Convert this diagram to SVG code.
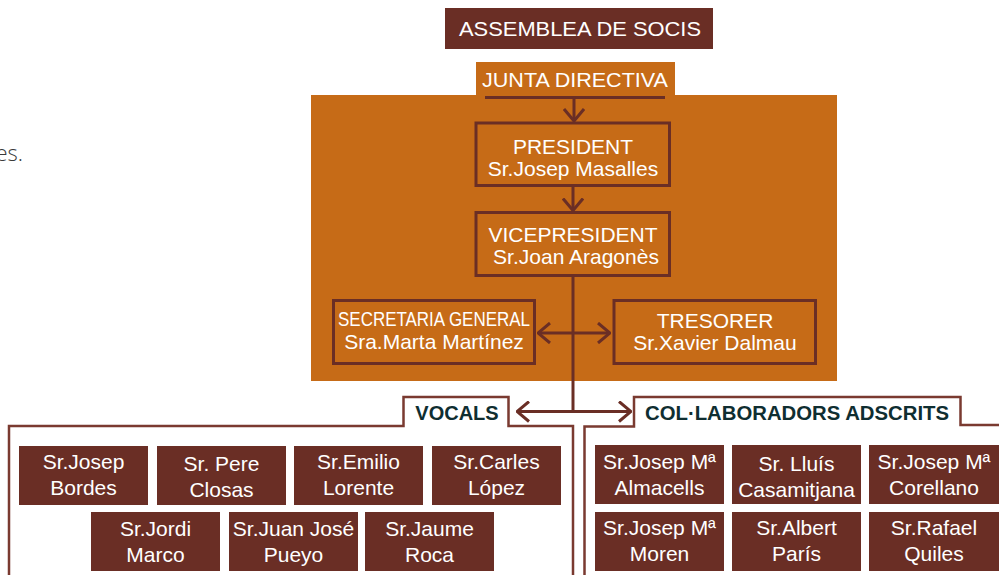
<svg xmlns="http://www.w3.org/2000/svg" width="999" height="575" viewBox="0 0 999 575">
<style>
.t{font-family:"Liberation Sans","Noto Sans",sans-serif;fill:#fff;text-anchor:middle;font-size:21px}
.h{font-family:"Liberation Sans","Noto Sans",sans-serif;fill:#0f2e31;text-anchor:middle;font-size:20px;font-weight:bold}
.box{fill:#6a2e25}
.ob{fill:none;stroke:#6a2e25;stroke-width:3}
.c{fill:none;stroke:#6a2e25;stroke-width:3}
.f{fill:none;stroke:#7a3a30;stroke-width:2.5}
</style>
<defs>
<marker id="ah" viewBox="0 0 14 22" refX="13" refY="11" markerWidth="14" markerHeight="22" markerUnits="userSpaceOnUse" orient="auto-start-reverse">
<path d="M1,1 L13,11 L1,21" fill="none" stroke="#6a2e25" stroke-width="3"/>
</marker>
</defs>
<rect width="999" height="575" fill="#fff"/>
<text x="23" y="161" font-family="Open Sans,Liberation Sans,sans-serif" font-size="22" fill="#3a3a3a" text-anchor="end" font-weight="300">es.</text>

<g id="panel"><rect x="311" y="95" width="526" height="286" fill="#c66b17"/></g>

<g id="assemblea"><rect class="box" x="445" y="8" width="268" height="41"/><text class="t" x="580" y="36" font-size="23" textLength="242" lengthAdjust="spacingAndGlyphs">ASSEMBLEA DE SOCIS</text></g>
<g id="junta"><rect x="476" y="62" width="199" height="34" fill="#c66b17"/><text class="t" x="575" y="87" textLength="186" lengthAdjust="spacingAndGlyphs">JUNTA DIRECTIVA</text></g>
<g id="president"><rect class="ob" x="476" y="123" width="193.5" height="62.5"/><text class="t" x="573" y="154" font-size="20">PRESIDENT</text><text class="t" x="573" y="176">Sr.Josep Masalles</text></g>
<g id="vicepresident"><rect class="ob" x="476" y="212.5" width="193.5" height="63"/><text class="t" x="573" y="242" font-size="20">VICEPRESIDENT</text><text class="t" x="576" y="264">Sr.Joan Aragonès</text></g>
<g id="secretaria"><rect class="ob" x="333.5" y="300.5" width="201" height="63"/><text class="t" x="434" y="326" font-size="17" textLength="192" lengthAdjust="spacingAndGlyphs">SECRETARIA GENERAL</text><text class="t" x="434" y="349">Sra.Marta Martínez</text></g>
<g id="tresorer"><rect class="ob" x="614" y="300.5" width="201.5" height="63"/><text class="t" x="715" y="328" font-size="20">TRESORER</text><text class="t" x="715" y="350">Sr.Xavier Dalmau</text></g>

<g id="vocals"><path class="f" d="M9,575 V426 H403.5 V397 H508.5 V426 H573 V575"/><text class="h" x="457" y="420">VOCALS</text></g>
<g id="collab"><path class="f" d="M584.5,575 V426.5 H634 V397 H960.5 V425 H999"/><text class="h" x="797" y="420" textLength="304" lengthAdjust="spacingAndGlyphs">COL·LABORADORS ADSCRITS</text></g>

<g id="connectors">
<line class="c" x1="485" y1="97.5" x2="665" y2="97.5"/>
<line class="c" x1="574" y1="97.5" x2="574" y2="121" marker-end="url(#ah)"/>
<line class="c" x1="573" y1="186" x2="573" y2="210.5" marker-end="url(#ah)"/>
<line class="c" x1="573" y1="276" x2="573" y2="411.5"/>
<line class="c" x1="538" y1="333" x2="610" y2="333" marker-start="url(#ah)" marker-end="url(#ah)"/>
<line class="c" x1="517" y1="411.5" x2="631" y2="411.5" marker-start="url(#ah)" marker-end="url(#ah)"/>
</g>

<g id="v1"><rect class="box" x="19" y="446" width="129" height="59"/><text class="t" x="83.5" y="469">Sr.Josep</text><text class="t" x="83.5" y="495">Bordes</text></g>
<g id="v2"><rect class="box" x="157" y="446" width="129" height="59"/><text class="t" x="221.5" y="471">Sr. Pere</text><text class="t" x="221.5" y="497">Closas</text></g>
<g id="v3"><rect class="box" x="294" y="446" width="129" height="59"/><text class="t" x="358.5" y="469">Sr.Emilio</text><text class="t" x="358.5" y="495">Lorente</text></g>
<g id="v4"><rect class="box" x="432" y="446" width="129" height="59"/><text class="t" x="496.5" y="469">Sr.Carles</text><text class="t" x="496.5" y="495">López</text></g>
<g id="v5"><rect class="box" x="91" y="512" width="129" height="59"/><text class="t" x="155.5" y="536">Sr.Jordi</text><text class="t" x="155.5" y="562">Marco</text></g>
<g id="v6"><rect class="box" x="229" y="512" width="129" height="59"/><text class="t" x="293.5" y="536">Sr.Juan José</text><text class="t" x="293.5" y="562">Pueyo</text></g>
<g id="v7"><rect class="box" x="365" y="512" width="129" height="59"/><text class="t" x="429.5" y="536">Sr.Jaume</text><text class="t" x="429.5" y="562">Roca</text></g>

<g id="c1"><rect class="box" x="595" y="445" width="129" height="59"/><text class="t" x="659.5" y="469">Sr.Josep Mª</text><text class="t" x="659.5" y="495">Almacells</text></g>
<g id="c2"><rect class="box" x="732" y="445" width="129" height="59"/><text class="t" x="796.5" y="471">Sr. Lluís</text><text class="t" x="796.5" y="497">Casamitjana</text></g>
<g id="c3"><rect class="box" x="869" y="445" width="130" height="59"/><text class="t" x="934" y="469">Sr.Josep Mª</text><text class="t" x="934" y="495">Corellano</text></g>
<g id="c4"><rect class="box" x="595" y="512" width="129" height="59"/><text class="t" x="659.5" y="535">Sr.Josep Mª</text><text class="t" x="659.5" y="561">Moren</text></g>
<g id="c5"><rect class="box" x="732" y="512" width="129" height="59"/><text class="t" x="796.5" y="535">Sr.Albert</text><text class="t" x="796.5" y="561">París</text></g>
<g id="c6"><rect class="box" x="869" y="512" width="130" height="59"/><text class="t" x="934" y="535">Sr.Rafael</text><text class="t" x="934" y="561">Quiles</text></g>
</svg>
